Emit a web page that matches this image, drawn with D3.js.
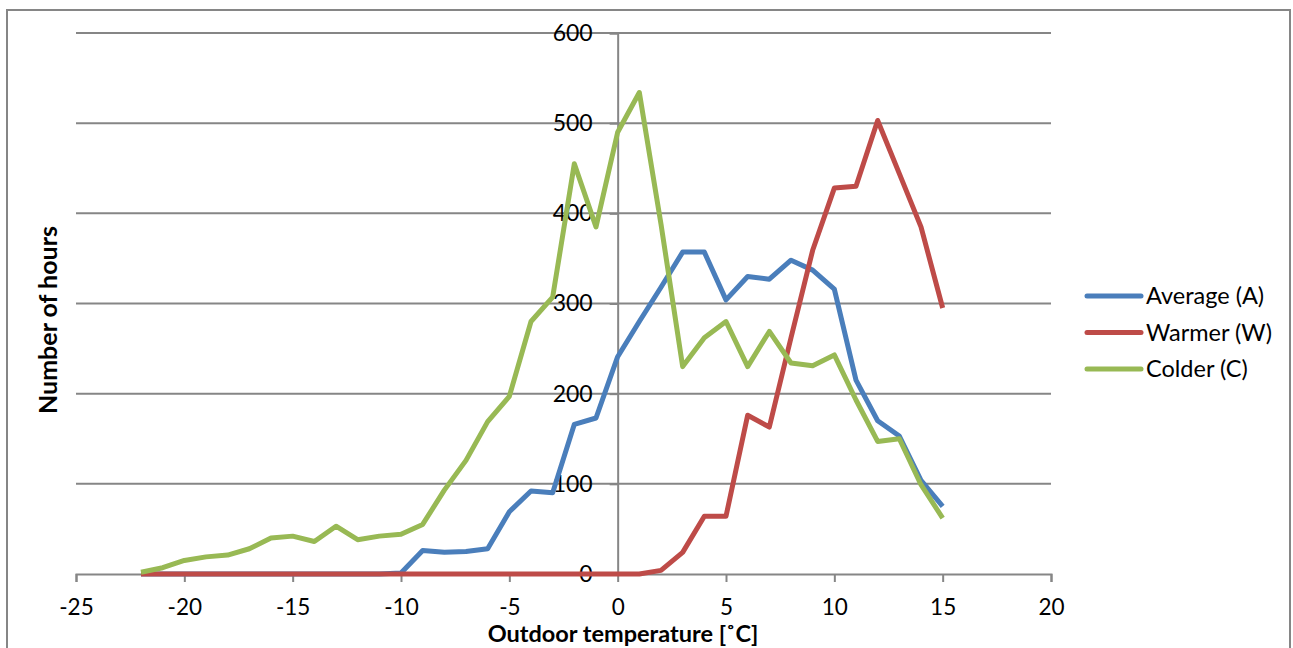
<!DOCTYPE html>
<html><head><meta charset="utf-8">
<script src="https://cdn.jsdelivr.net/npm/d3@7"></script>
<style>body{margin:0;background:#fff}svg{display:block}text{font-family:Lato,"Open Sans",sans-serif}</style>
</head><body><svg id="c" width="1293" height="648"></svg>
<script>
const temps = d3.range(-22, 16);
const average = [0,0,0,0,0,0,0,0,0,0,0,0,1,26,24,25,28,69,92,90,166,173,241,280,318,357,357,304,330,327,348,337,316,215,170,153,104,75];
const warmer  = [0,0,0,0,0,0,0,0,0,0,0,0,0,0,0,0,0,0,0,0,0,0,0,0,4,24,64,64,176,163,262,359,428,430,503,444,385,295];
const colder  = [2,7,15,19,21,28,40,42,36,53,38,42,44,55,93,126,169,197,280,307,455,385,490,534,388,230,262,280,230,269,234,231,243,193,147,150,99,62];
const seriesNames = ["Average (A)", "Warmer (W)", "Colder (C)"];
const colors = ["#4a7ebb", "#be4b48", "#98b954"];
const xTicks = [-25,-20,-15,-10,-5,0,5,10,15,20];
const yTicks = [0,100,200,300,400,500,600];
const xTitle = "Outdoor temperature [˚C]";
const yTitle = "Number of hours";

const svg = d3.select("#c");
const x = d3.scaleLinear().domain([-25,20]).range([76,1051]);
const y = d3.scaleLinear().domain([0,600]).range([574,33]);
const grid = "#868686";

svg.append("rect").attr("x",7).attr("y",10).attr("width",1283).attr("height",650)
  .attr("fill","none").attr("stroke",grid).attr("stroke-width",2);

svg.append("g").selectAll("line").data(yTicks.filter(d=>d>0)).join("line")
  .attr("x1",x(-25)).attr("x2",x(20)).attr("y1",d=>y(d)).attr("y2",d=>y(d))
  .attr("stroke",grid).attr("stroke-width",2);

const gx = svg.append("g").attr("transform",`translate(0,${y(0)})`)
  .call(d3.axisBottom(x).tickValues(xTicks).tickSize(8).tickPadding(17).tickFormat(d3.format("d")));
gx.select(".domain").attr("stroke",grid).attr("stroke-width",2);
gx.selectAll(".tick line").attr("stroke",grid).attr("stroke-width",2);
gx.selectAll(".tick text").attr("font-size",22.5).attr("fill","#000").attr("font-family","Lato").text(d=>d<0?"-"+Math.abs(d):d);

const gy = svg.append("g").attr("transform",`translate(${x(0)},0)`)
  .call(d3.axisLeft(y).tickValues(yTicks).tickSize(8).tickPadding(17));
gy.select(".domain").attr("stroke",grid).attr("stroke-width",2);
gy.selectAll(".tick line").attr("stroke",grid).attr("stroke-width",2);
gy.selectAll(".tick text").attr("font-size",23).attr("fill","#000").attr("font-family","Lato");

const data = [average, warmer, colder];
const line = d3.line().x((d,i)=>x(temps[i])).y(d=>y(d));
data.forEach((s,k)=>{
  svg.append("path").datum(s).attr("d",line).attr("fill","none")
    .attr("stroke",colors[k]).attr("stroke-width",5).attr("stroke-linejoin","round");
});

const lg = svg.append("g");
seriesNames.forEach((n,k)=>{
  const yy = 296 + k*36.5;
  lg.append("line").attr("x1",1087).attr("x2",1141).attr("y1",yy).attr("y2",yy)
    .attr("stroke",colors[k]).attr("stroke-width",5).attr("stroke-linecap","round");
  lg.append("text").attr("x",1146).attr("y",yy+8).attr("font-size",23.5).text(n);
});

svg.append("text").attr("x",623).attr("y",642).attr("text-anchor","middle")
  .attr("font-size",23.5).attr("font-weight","bold").text(xTitle);
svg.append("text").attr("transform","translate(57,320) rotate(-90)").attr("text-anchor","middle")
  .attr("font-size",25).attr("font-weight","bold").text(yTitle);
</script></body></html>
